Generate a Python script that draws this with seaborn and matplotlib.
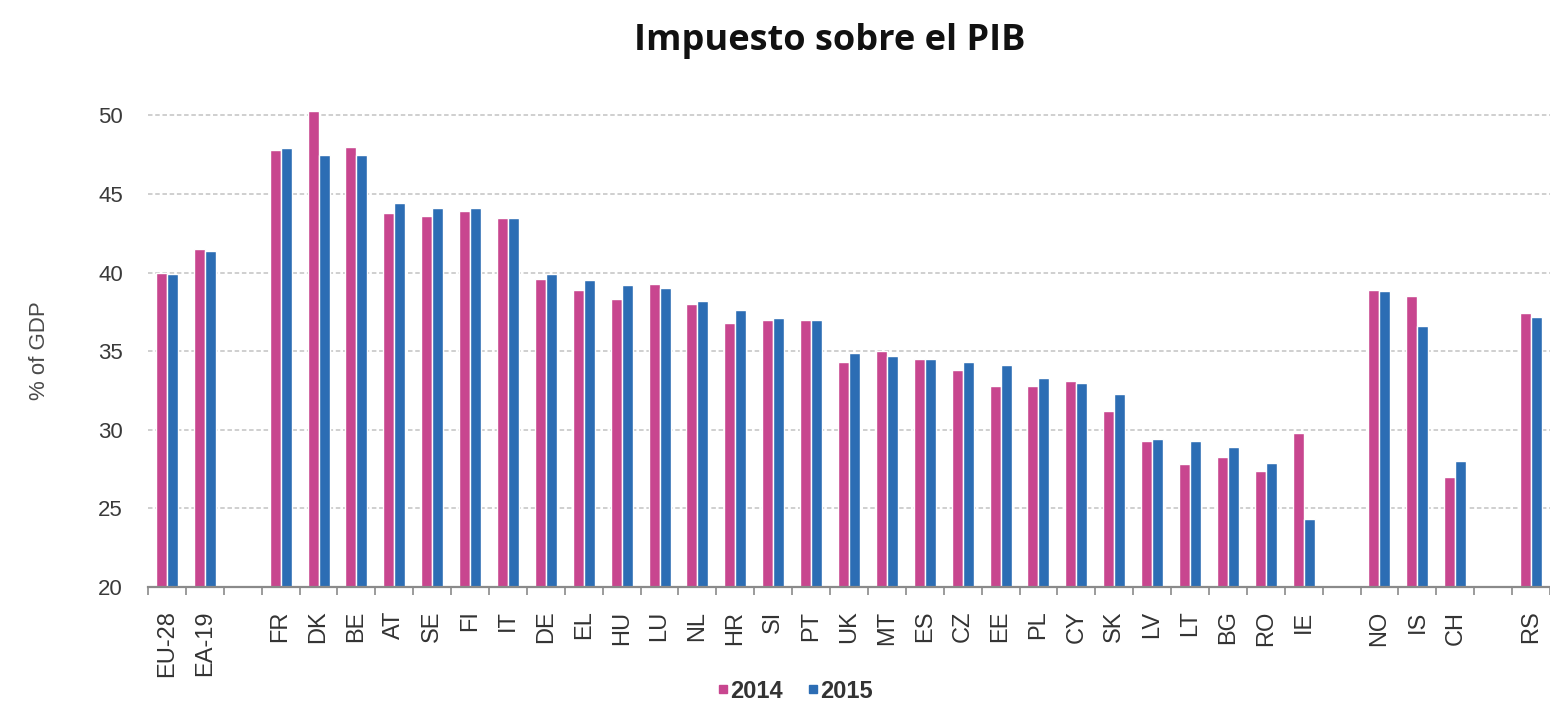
import numpy as np
import pandas as pd
import matplotlib
matplotlib.use('Agg')
import matplotlib.pyplot as plt
from matplotlib.lines import Line2D
from matplotlib.ticker import FixedLocator
import seaborn as sns

# Values (% of GDP)
countries = ['EU-28', 'EA-19', 'FR', 'DK', 'BE', 'AT', 'SE', 'FI', 'IT', 'DE',
             'EL', 'HU', 'LU', 'NL', 'HR', 'SI', 'PT', 'UK', 'MT', 'ES', 'CZ',
             'EE', 'PL', 'CY', 'SK', 'LV', 'LT', 'BG', 'RO', 'IE', 'NO', 'IS',
             'CH', 'RS']
tax_2014 = [40.0, 41.5, 47.8, 50.3, 48.0, 43.8, 43.6, 43.9, 43.5, 39.6,
            38.9, 38.3, 39.3, 38.0, 36.8, 37.0, 37.0, 34.3, 35.0, 34.5, 33.8,
            32.8, 32.8, 33.1, 31.2, 29.3, 27.8, 28.3, 27.4, 29.8, 38.9, 38.5,
            27.0, 37.4]
tax_2015 = [39.9, 41.4, 47.9, 47.5, 47.5, 44.4, 44.1, 44.1, 43.5, 39.9,
            39.5, 39.2, 39.0, 38.2, 37.6, 37.1, 37.0, 34.9, 34.7, 34.5, 34.3,
            34.1, 33.3, 33.0, 32.3, 29.4, 29.3, 28.9, 27.9, 24.3, 38.8, 36.6,
            28.0, 37.2]
years = ['2014', '2015']
# empty slots separate the groups of countries
order = (countries[:2] + [' '] + countries[2:30] + ['  '] + countries[30:33]
         + ['   '] + countries[33:])

pink = '#C8468F'
blue = '#2C6DB4'

df = pd.DataFrame({
    'country': countries * 2,
    'year': [years[0]] * len(countries) + [years[1]] * len(countries),
    'value': tax_2014 + tax_2015,
})

sns.set_style('white')
plt.rcParams['font.family'] = ['Liberation Sans', 'DejaVu Sans']

fig = plt.figure(figsize=(15.5, 7.18), dpi=100)
ax = fig.add_axes([148 / 1550, 1 - 587 / 718, 1402 / 1550, (587 - 84) / 718])

sns.barplot(data=df, x='country', y='value', hue='year', order=order,
            palette=[pink, blue], width=0.58, gap=0, saturation=1,
            legend=False, ax=ax)

ax.set_ylim(20, 52)
ax.set_xlim(-0.5, len(order) - 0.5)
ax.set_yticks(np.arange(20, 51, 5))
for v in range(25, 51, 5):
    ax.axhline(v, color='#cccccc', lw=1.3, ls=(0, (2.5, 1.5)), zorder=0)

for s in ['top', 'right', 'left']:
    ax.spines[s].set_visible(False)
ax.spines['bottom'].set_color('#8a8a8a')
ax.spines['bottom'].set_linewidth(1.6)

ax.xaxis.set_minor_locator(FixedLocator(np.arange(-0.5, len(order), 1)))
ax.tick_params(axis='x', which='major', length=0, pad=17, labelsize=17,
               labelcolor='#333333', rotation=90)
ax.tick_params(axis='x', which='minor', length=6, width=1.2, color='#8a8a8a',
               direction='out', bottom=True)
ax.tick_params(axis='y', length=0, pad=18, labelsize=16, labelcolor='#3a3a3a')

ax.set_xlabel('')
ax.set_ylabel('% of GDP', fontsize=16, color='#4a4a4a')
ax.yaxis.set_label_coords(-0.07, 0.47)

fig.text(830 / 1550, 1 - 50 / 718, 'Impuesto sobre el PIB', ha='center',
         va='baseline', fontsize=26, fontweight='bold',
         family=['Open Sans', 'DejaVu Sans'], color='#111111')

handles = [Line2D([], [], marker='s', ls='', color=pink, markersize=6),
           Line2D([], [], marker='s', ls='', color=blue, markersize=6)]
fig.legend(handles, years, loc='center', ncol=2, frameon=False,
           bbox_to_anchor=(795 / 1550, 1 - 691 / 718),
           prop={'weight': 'bold', 'size': 17}, labelcolor='#333333',
           handletextpad=0.05, columnspacing=1.0, handlelength=0.5)

fig.savefig('out.png', dpi=100)
